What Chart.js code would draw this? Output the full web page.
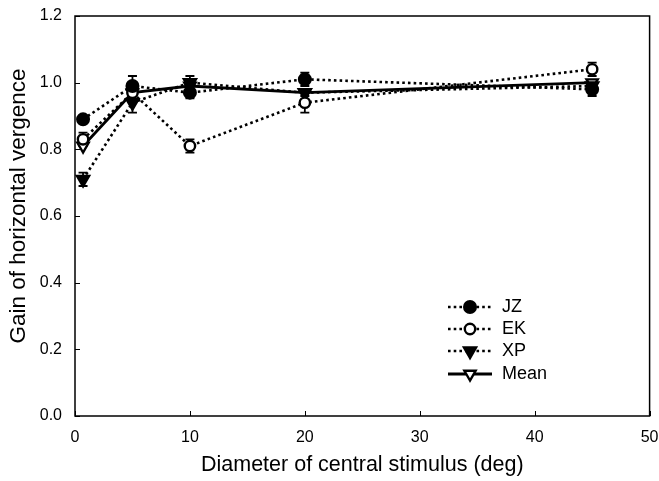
<!DOCTYPE html>
<html>
<head>
<meta charset="utf-8">
<script src="https://cdn.jsdelivr.net/npm/chart.js@4/dist/chart.umd.min.js"></script>
<style>
  html, body { margin: 0; padding: 0; background: #fff; }
  #wrap { width: 659px; height: 481px; }
</style>
</head>
<body>
<div id="wrap"><canvas id="c" width="659" height="481"></canvas></div>
<script>
// ---- data ----
const diameters = [0.7, 5, 10, 20, 45];
const jzGain  = [0.89, 0.99, 0.97, 1.01, 0.98];
const jzErr   = [0.01, 0.03, 0.017, 0.02, 0.02];
const ekGain  = [0.83, 0.97, 0.81, 0.94, 1.04];
const ekErr   = [0.02, 0.02, 0.02, 0.03, 0.02];
const xpGain  = [0.71, 0.94, 1.00, 0.97, 0.99];
const xpErr   = [0.02, 0.03, 0.02, 0.01, 0.01];
const meanGain = [0.81, 0.97, 0.99, 0.97, 1.00];
const seriesNames = ['JZ', 'EK', 'XP', 'Mean'];
const xTicks = [0, 10, 20, 30, 40, 50];
const yTicks = [0, 0.2, 0.4, 0.6, 0.8, 1.0, 1.2];
const xTitle = 'Diameter of central stimulus (deg)';
const yTitle = 'Gain of horizontal vergence';

const FONT = 'Arial, "Liberation Sans", sans-serif';
const pts = (ys) => diameters.map((x, i) => ({ x: x, y: ys[i] }));

function mkSet(label, ys, errs, style, filled, dashed, rad) {
  return {
    label: label,
    data: pts(ys),
    errors: errs,
    showLine: true,
    borderColor: '#000',
    borderWidth: dashed ? 2.6 : 2.8,
    borderDash: dashed ? [2.6, 3.1] : [],
    pointStyle: style,
    pointRotation: style === 'triangle' ? 180 : 0,
    pointRadius: rad,
    pointHoverRadius: rad,
    pointBackgroundColor: filled ? '#000' : '#fff',
    pointBorderColor: '#000',
    pointBorderWidth: 2.4,
    fill: false,
    tension: 0,
    clip: false
  };
}

const datasets = [
  mkSet(seriesNames[0], jzGain, jzErr, 'circle', true, true, 5.8),
  mkSet(seriesNames[1], ekGain, ekErr, 'circle', false, true, 5.2),
  mkSet(seriesNames[2], xpGain, xpErr, 'triangle', true, true, 7),
  mkSet(seriesNames[3], meanGain, null, 'triangle', false, false, 6.5)
];

const framePlugin = {
  id: 'frame',
  beforeDatasetsDraw(chart) {
    const ctx = chart.ctx, xs = chart.scales.x, ys = chart.scales.y;
    ctx.save();
    ctx.strokeStyle = '#000';
    ctx.lineWidth = 1.8;
    chart.data.datasets.forEach(ds => {
      if (!ds.errors) return;
      ds.data.forEach((p, i) => {
        const e = ds.errors[i];
        const px = xs.getPixelForValue(p.x);
        const y1 = ys.getPixelForValue(p.y + e), y2 = ys.getPixelForValue(p.y - e);
        ctx.beginPath();
        ctx.moveTo(px, y1); ctx.lineTo(px, y2);
        ctx.moveTo(px - 4.5, y1); ctx.lineTo(px + 4.5, y1);
        ctx.moveTo(px - 4.5, y2); ctx.lineTo(px + 4.5, y2);
        ctx.stroke();
      });
    });
    ctx.restore();
  },
  afterDraw(chart) {
    const ctx = chart.ctx, a = chart.chartArea, xs = chart.scales.x, ys = chart.scales.y;
    ctx.save();
    ctx.strokeStyle = '#000';
    ctx.lineWidth = 1.5;
    ctx.strokeRect(a.left, a.top, a.right - a.left, a.bottom - a.top);
    ctx.lineWidth = 1;
    ctx.beginPath();
    xTicks.forEach(v => {
      const px = Math.round(xs.getPixelForValue(v)) + 0.5;
      ctx.moveTo(px, a.bottom); ctx.lineTo(px, a.bottom - 5);
    });
    yTicks.forEach(v => {
      const py = Math.round(ys.getPixelForValue(v)) + 0.5;
      ctx.moveTo(a.left, py); ctx.lineTo(a.left + 5, py);
    });
    ctx.stroke();

    // y axis title
    ctx.save();
    ctx.translate(19, 206);
    ctx.rotate(-Math.PI / 2);
    ctx.fillStyle = '#000';
    ctx.font = '22.5px ' + FONT;
    ctx.textAlign = 'center';
    ctx.textBaseline = 'middle';
    ctx.fillText(yTitle, 0, 0);
    ctx.restore();

    // legend
    const lx0 = 448, lx1 = 492, mx = 470, tx = 502;
    const rows = [307, 329, 351, 374];
    chart.data.datasets.forEach((ds, i) => {
      const y = rows[i];
      ctx.save();
      ctx.strokeStyle = '#000';
      ctx.lineWidth = ds.borderWidth;
      ctx.setLineDash(ds.borderDash);
      ctx.beginPath();
      ctx.moveTo(lx0, y); ctx.lineTo(lx1, y);
      ctx.stroke();
      ctx.setLineDash([]);
      ctx.fillStyle = ds.pointBackgroundColor;
      ctx.lineWidth = 2.4;
      Chart.helpers.drawPoint(ctx, {
        pointStyle: ds.pointStyle, rotation: ds.pointRotation,
        radius: ds.pointRadius, borderWidth: 2.4
      }, mx, y);
      ctx.restore();
      ctx.fillStyle = '#000';
      ctx.font = '18px ' + FONT;
      ctx.textBaseline = 'middle';
      ctx.textAlign = 'left';
      ctx.fillText(ds.label, tx, y);
    });
    ctx.restore();
  }
};

new Chart(document.getElementById('c'), {
  type: 'scatter',
  data: { datasets: datasets },
  options: {
    responsive: false,
    animation: false,
    events: [],
    layout: { padding: { top: 16, right: 8, left: 0, bottom: 0 } },
    plugins: { legend: { display: false }, tooltip: { enabled: false } },
    scales: {
      x: {
        type: 'linear', min: 0, max: 50,
        afterBuildTicks: (s) => { s.ticks = xTicks.map(v => ({ value: v })); },
        afterFit: (s) => { s.height = 65; s.paddingLeft = 0; s.paddingRight = 0; },
        grid: { display: false, drawTicks: false },
        border: { display: false },
        ticks: { color: '#000', padding: 12, font: { family: FONT, size: 16 }, callback: v => String(v) },
        title: { display: true, text: xTitle, color: '#000',
                 font: { family: FONT, size: 21.5 }, padding: { top: 0, bottom: 3 } }
      },
      y: {
        type: 'linear', min: 0, max: 1.2,
        afterBuildTicks: (s) => { s.ticks = yTicks.map(v => ({ value: v })); },
        afterFit: (s) => { s.width = 75; s.paddingTop = 0; s.paddingBottom = 0; },
        grid: { display: false, drawTicks: false },
        border: { display: false },
        ticks: { color: '#000', padding: 13, font: { family: FONT, size: 16 }, callback: v => v.toFixed(1) },
        title: { display: false }
      }
    }
  },
  plugins: [framePlugin]
});
</script>
</body>
</html>
